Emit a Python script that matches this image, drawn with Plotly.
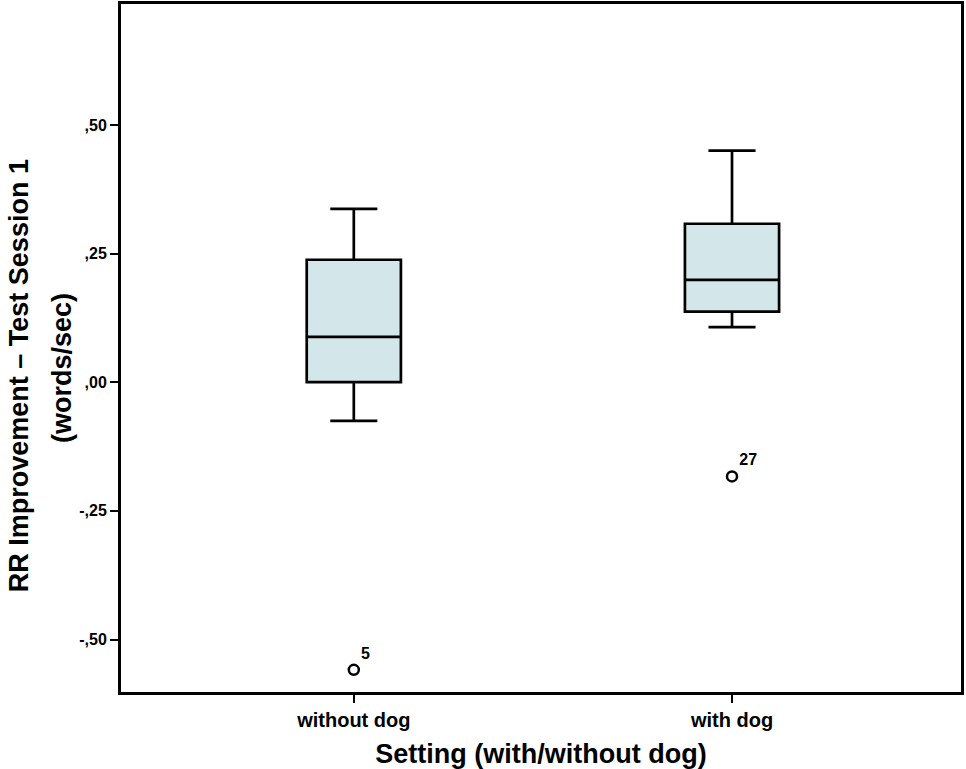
import plotly.graph_objects as go

# box statistics
groups = ["without dog", "with dog"]
q1 = [0.000, 0.137]
median = [0.088, 0.199]
q3 = [0.238, 0.308]
lower_whisker = [-0.075, 0.107]
upper_whisker = [0.337, 0.450]

# outliers (case numbers shown next to them)
outlier_groups = ["without dog", "with dog"]
outlier_values = [-0.559, -0.183]
outlier_ids = ["5", "27"]

ytick_vals = [-0.50, -0.25, 0.00, 0.25, 0.50]
ytick_text = ["-,50", "-,25", ",00", ",25", ",50"]

FONT = "Liberation Sans"

fig = go.Figure()

fig.add_trace(
    go.Box(
        x=groups,
        q1=q1,
        median=median,
        q3=q3,
        lowerfence=lower_whisker,
        upperfence=upper_whisker,
        width=0.249,
        whiskerwidth=0.5,
        fillcolor="#d3e6e9",
        line=dict(color="black", width=2.7),
        boxpoints=False,
        hoverinfo="skip",
    )
)

fig.add_trace(
    go.Scatter(
        x=outlier_groups,
        y=outlier_values,
        mode="markers+text",
        marker=dict(symbol="circle-open", size=10, color="black", line=dict(width=2.5)),
        text=["<b>%s</b>" % t for t in outlier_ids],
        textposition="top right",
        textfont=dict(size=16, color="black", family=FONT),
        hoverinfo="skip",
    )
)

# y title as two separate lines, SPSS style
fig.add_annotation(
    text="<b>RR Improvement – Test Session 1</b>",
    xref="paper", yref="paper", x=-0.1214, y=0.459,
    xanchor="center", yanchor="middle",
    textangle=-90, showarrow=False,
    font=dict(size=27, color="black", family=FONT),
)
fig.add_annotation(
    text="<b>(words/sec)</b>",
    xref="paper", yref="paper", x=-0.0702, y=0.471,
    xanchor="center", yanchor="middle",
    textangle=-90, showarrow=False,
    font=dict(size=27, color="black", family=FONT),
)

fig.update_layout(
    width=966,
    height=769,
    margin=dict(l=121, r=5, t=4, b=77),
    paper_bgcolor="white",
    plot_bgcolor="white",
    showlegend=False,
    font=dict(family=FONT, color="black"),
)

fig.update_xaxes(
    type="category",
    range=[-0.6156, 1.6055],
    tickvals=groups,
    ticktext=["<b>%s</b>" % g for g in groups],
    automargin=False,
    showgrid=False,
    showline=True,
    linecolor="black",
    linewidth=3,
    mirror=True,
    ticks="outside",
    ticklen=8,
    tickwidth=2,
    tickcolor="black",
    tickfont=dict(size=20, family=FONT),
    title=dict(
        text="<b>Setting (with/without dog)</b>",
        font=dict(size=27, family=FONT),
        standoff=18,
    ),
)

fig.update_yaxes(
    range=[-0.602, 0.735],
    tickvals=ytick_vals,
    ticktext=["<b>%s</b>" % t for t in ytick_text],
    automargin=False,
    showgrid=False,
    zeroline=False,
    showline=True,
    linecolor="black",
    linewidth=3,
    mirror=True,
    ticks="outside",
    ticklen=8,
    tickwidth=2,
    tickcolor="black",
    tickfont=dict(size=16, family=FONT),
)

fig.write_html(
    "out.html",
    config={"displayModeBar": False},
    post_script="document.body.style.margin='0px';",
)
